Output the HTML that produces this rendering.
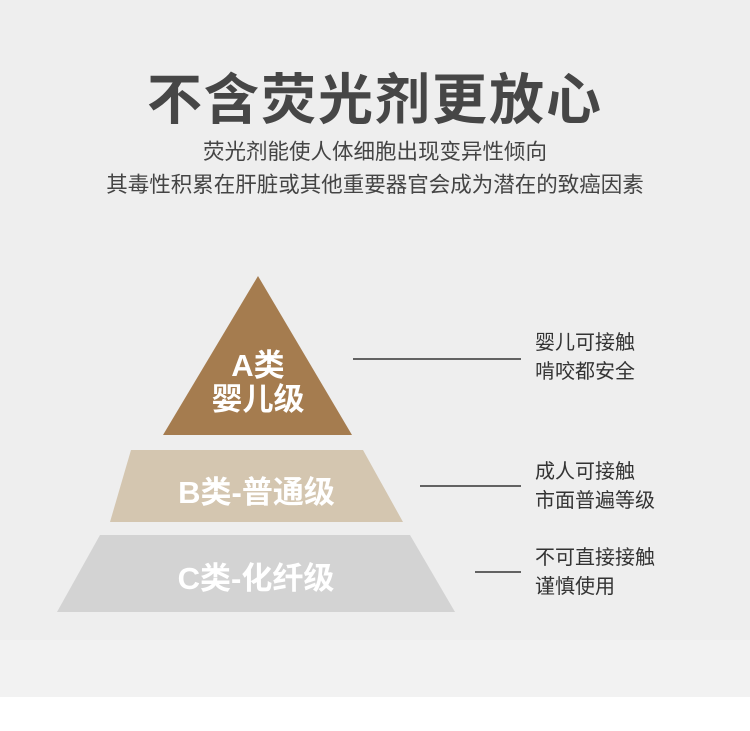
<!DOCTYPE html>
<html><head><meta charset="utf-8"><style>
body{margin:0;width:750px;height:731px;background:#fff;font-family:"Liberation Sans","Noto Sans CJK SC",sans-serif;position:relative;overflow:hidden}
.bg{position:absolute;left:0;top:0;width:750px;height:640px;background:#eeeeee}
.bg2{position:absolute;left:0;top:640px;width:750px;height:57px;background:#f2f2f2}
.t{position:absolute;white-space:nowrap}
</style></head><body>
<div class="bg"></div><div class="bg2"></div>
<div class="t" style="left:0;width:750px;text-align:center;top:55px;font-size:55px;font-weight:bold;color:#464646;letter-spacing:2px">不含荧光剂更放心</div>
<div class="t" style="left:0;width:750px;text-align:center;top:136px;font-size:21.5px;color:#444;line-height:33px">荧光剂能使人体细胞出现变异性倾向<br>其毒性积累在肝脏或其他重要器官会成为潜在的致癌因素</div>
<svg width="750" height="731" style="position:absolute;left:0;top:0">
<polygon points="258,276 352,435 163,435" fill="#a57c4f"/>
<polygon points="131,450 363,450 403,522 110,522" fill="#d4c6b0"/>
<polygon points="100,535 410,535 455,612 57,612" fill="#d3d3d3"/>
<line x1="353" y1="359" x2="521" y2="359" stroke="#333" stroke-width="1.5"/>
<line x1="420" y1="486" x2="521" y2="486" stroke="#333" stroke-width="1.5"/>
<line x1="475" y1="572" x2="521" y2="572" stroke="#333" stroke-width="1.5"/>
</svg>
<div class="t" style="left:196px;width:124px;text-align:center;top:349px;font-size:31px;font-weight:bold;color:#fff;line-height:34px">A类<br>婴儿级</div>
<div class="t" style="left:110px;width:293px;text-align:center;top:467px;font-size:31px;font-weight:bold;color:#fff">B类-普通级</div>
<div class="t" style="left:57px;width:398px;text-align:center;top:553px;font-size:31px;font-weight:bold;color:#fff">C类-化纤级</div>
<div class="t" style="left:535px;top:329px;font-size:20px;color:#333;line-height:29px">婴儿可接触<br>啃咬都安全</div>
<div class="t" style="left:535px;top:458px;font-size:20px;color:#333;line-height:29px">成人可接触<br>市面普遍等级</div>
<div class="t" style="left:535px;top:544px;font-size:20px;color:#333;line-height:29px">不可直接接触<br>谨慎使用</div>
</body></html>
